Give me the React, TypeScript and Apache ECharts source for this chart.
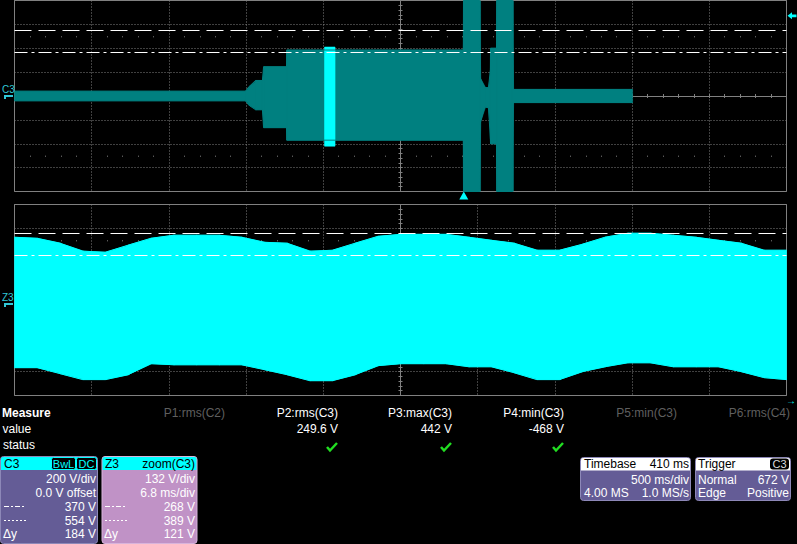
import React, { useEffect, useRef } from 'react';
import * as echarts from 'echarts';

// ---- Upper trace C3 (time in s, volts): envelope of the captured signal ----
const c3Time = [-2.91, -1.414, -1.394, -1.349, -1.304, -1.297, -1.148, -1.147, -0.003, -0.002, 0.102, 0.103, 0.135, 0.16, 0.172, 0.173, 0.212, 0.213, 0.315, 0.316, 1.093];
const c3Max = [40, 40, 75, 130, 130, 245, 245, 385, 385, 800, 800, 160, 70, 70, 220, 400, 400, 800, 800, 55, 55];
const c3Min = [-40, -40, -75, -115, -115, -265, -265, -370, -370, -800, -800, -240, -90, -100, -360, -400, -400, -800, -800, -55, -55];

// zoom window highlighted on C3
const zoomWinTime = [-0.902, -0.834];
const zoomWinMax = [410, 410];
const zoomWinMin = [-420, -420];

// ---- Lower trace Z3 = zoom(C3) (time in ms from window start, volts) ----
const z3Time = [0, 2, 4, 6, 8, 10, 12, 14, 16, 18, 20, 22, 24, 26, 28, 30, 32, 34, 36, 38, 40, 42, 44, 46, 48, 50, 52, 54, 56, 58, 60, 62, 64, 66, 68];
const z3Max = [369, 363, 336, 292, 286, 325, 363, 380, 380, 380, 369, 341, 336, 292, 297, 336, 374, 385, 385, 385, 369, 352, 336, 297, 297, 330, 369, 391, 391, 380, 369, 352, 336, 297, 297];
const z3Min = [-352, -352, -385, -418, -418, -391, -330, -336, -336, -336, -336, -363, -391, -424, -424, -391, -341, -330, -330, -330, -347, -347, -380, -418, -418, -374, -347, -325, -325, -347, -347, -347, -374, -407, -418];

// cursors (V)
const c3Cursors = [554, 370];
const z3Cursors = [389, 268];
const triggerTime = 0;
const triggerLevel = 672;

// measurement table
const measureNames = ['P1:rms(C2)', 'P2:rms(C3)', 'P3:max(C3)', 'P4:min(C3)', 'P5:min(C3)', 'P6:rms(C4)'];
const measureValues = ['', '249.6 V', '442 V', '-468 V', '', ''];
const measureOk = [false, true, true, true, false, false];

// channel boxes
const c3Rows = ['200 V/div', '0.0 V offset', '370 V', '554 V', '184 V'];
const z3Rows = ['132 V/div', '6.8 ms/div', '268 V', '389 V', '121 V'];
const timebaseHead = ['Timebase', '410 ms'];
const timebaseRows = [['', '500 ms/div'], ['4.00 MS', '1.0 MS/s']];
const triggerHead = ['Trigger', 'C3'];
const triggerRows = [['Normal', '672 V'], ['Edge', 'Positive']];

const FONT = '"Liberation Sans", Arial, sans-serif';
const GREY = '#808080';
const TEAL = '#008080';
const CYAN = '#00ffff';
const PURPLE = '#645c96';
const PINK = '#c092c6';

const gridRects = [
  { left: 14.5, top: 0.5, width: 772, height: 191 },
  { left: 14.5, top: 204.5, width: 772, height: 191 },
];
const dataX = [{ min: -2.91, max: 2.09 }, { min: 0, max: 68 }];
const dataY = [{ min: -800, max: 800 }, { min: -506, max: 550 }];

function buildAxes() {
  const xs: any[] = [];
  const ys: any[] = [];
  [0, 1].forEach((g) => {
    xs.push({ type: 'value', gridIndex: g, min: dataX[g].min, max: dataX[g].max, show: false });
    xs.push({
      type: 'value', gridIndex: g, min: 0, max: 10, interval: 1, position: 'bottom',
      axisLine: { show: false, onZero: false }, axisTick: { show: false }, axisLabel: { show: false },
      splitLine: { show: true, lineStyle: { color: GREY, type: [1, 2], width: 1 } },
    });
    [true, false].forEach((inside) => {
      xs.push({
        type: 'value', gridIndex: g, min: 0, max: 10, interval: 1, position: 'bottom', offset: -95.5,
        axisLine: { show: true, onZero: false, lineStyle: { color: GREY, width: 1 } },
        axisTick: { show: true, inside, length: 2, lineStyle: { color: GREY } },
        minorTick: { show: true, splitNumber: 5, length: 2, lineStyle: { color: GREY } },
        axisLabel: { show: false }, splitLine: { show: false },
      });
    });
    [-155.2, -35.8].forEach((off) => {
      xs.push({
        type: 'value', gridIndex: g, min: 0, max: 10, interval: 1, position: 'bottom', offset: off,
        axisLine: { show: false, onZero: false }, axisTick: { show: false },
        minorTick: { show: true, splitNumber: 5, length: 1, lineStyle: { color: GREY } },
        axisLabel: { show: false }, splitLine: { show: false },
      });
    });
    ys.push({ type: 'value', gridIndex: g, min: dataY[g].min, max: dataY[g].max, show: false });
    ys.push({
      type: 'value', gridIndex: g, min: 0, max: 8, interval: 1, position: 'left',
      axisLine: { show: false, onZero: false }, axisTick: { show: false }, axisLabel: { show: false },
      splitLine: { show: true, lineStyle: { color: GREY, type: [1, 2], width: 1 } },
    });
    [true, false].forEach((inside) => {
      ys.push({
        type: 'value', gridIndex: g, min: 0, max: 8, interval: 1, position: 'left', offset: -386,
        axisLine: { show: true, onZero: false, lineStyle: { color: GREY, width: 1 } },
        axisTick: { show: true, inside, length: 2, lineStyle: { color: GREY } },
        minorTick: { show: true, splitNumber: 5, length: 2, lineStyle: { color: GREY } },
        axisLabel: { show: false }, splitLine: { show: false },
      });
    });
  });
  return { xs, ys };
}

// filled envelope: one quadrilateral per pair of consecutive samples
// (right edge nudged by a pixel so neighbouring pieces overlap without seams)
function bandFill(name: string, g: number, t: number[], lo: number[], hi: number[], color: string) {
  const data = t.slice(0, -1).map((v, i) => [v, lo[i], hi[i], t[i + 1], lo[i + 1], hi[i + 1]]);
  const last = data.length - 1;
  return {
    type: 'custom', name, xAxisIndex: g * 6, yAxisIndex: g * 4, silent: true, z: 3, clip: true,
    data,
    encode: { x: [0, 3], y: [1, 2, 4, 5] },
    renderItem: (params: any, api: any) => {
      const a = api.coord([api.value(0), api.value(2)]);
      const b = api.coord([api.value(3), api.value(5)]);
      const c = api.coord([api.value(3), api.value(4)]);
      const d = api.coord([api.value(0), api.value(1)]);
      const nudge = params.dataIndex === last ? 0 : 1;
      return {
        type: 'polygon',
        shape: { points: [a, [b[0] + nudge, b[1]], [c[0] + nudge, c[1]], d] },
        style: { fill: color, stroke: color, lineWidth: 0.6 },
      };
    },
  };
}

// envelope edge line (carries the markers)
function edgeLine(name: string, g: number, t: number[], v: number[], color: string, extra: any = {}) {
  return {
    type: 'line', name, xAxisIndex: g * 6, yAxisIndex: g * 4, silent: true, z: 4,
    data: t.map((x, i) => [x, v[i]]), symbol: 'none', showSymbol: false,
    lineStyle: { color, width: 1 },
    ...extra,
  };
}

function cursorLines(vals: number[]) {
  return {
    symbol: 'none', silent: true, label: { show: false },
    data: [
      { yAxis: vals[0], lineStyle: { color: '#ffffff', width: 1, type: [17, 7] } },
      { yAxis: vals[1], lineStyle: { color: '#ffffff', width: 1, type: [13, 4, 3, 4] } },
    ],
  };
}

function text(x: number, y: number, s: string, o: any = {}) {
  return {
    type: 'text', x, y, silent: true, z: 100,
    style: {
      text: s, fill: o.fill || '#ffffff', fontSize: o.size || 12, fontFamily: FONT,
      fontWeight: o.weight || 'normal', align: o.align || 'left', verticalAlign: 'middle',
    },
  };
}
function rect(x: number, y: number, w: number, h: number, fill: string, o: any = {}) {
  return {
    type: 'rect', silent: true, z: o.z ?? 90,
    shape: { x, y, width: w, height: h, r: o.r || 0 },
    style: { fill, stroke: o.stroke || null, lineWidth: o.stroke ? 1 : 0 },
  };
}
function hline(x1: number, x2: number, y: number, dash: number[]) {
  return {
    type: 'line', silent: true, z: 100,
    shape: { x1, y1: y, x2, y2: y },
    style: { stroke: '#ffffff', lineWidth: 1, lineDash: dash },
  };
}

function buildGraphics() {
  const els: any[] = [];
  // channel labels on the left
  els.push(text(2, 89, 'C3', { fill: '#30c8d8', size: 10 }));
  els.push(rect(4, 95, 9, 2, '#30c8d8', { z: 100 }));
  els.push(rect(4, 95, 2, 4, '#30c8d8', { z: 100 }));
  els.push(text(2, 297, 'Z3', { fill: '#30c8d8', size: 10 }));
  els.push(rect(4, 303, 9, 2, '#30c8d8', { z: 100 }));
  els.push(rect(4, 303, 2, 4, '#30c8d8', { z: 100 }));

  // measure table
  els.push(text(2, 413.4, 'Measure', { weight: 'bold' }));
  els.push(text(2.5, 429.4, 'value'));
  els.push(text(3, 445.4, 'status'));
  const rightEdges = [225, 338, 452, 564, 677, 790];
  measureNames.forEach((n, i) => {
    const r = rightEdges[i];
    els.push(text(r, 413.4, n, { align: 'right', fill: measureOk[i] ? '#ffffff' : '#5f5f5f' }));
    if (measureValues[i]) els.push(text(r, 429.4, measureValues[i], { align: 'right' }));
    if (measureOk[i]) {
      els.push({
        type: 'polyline', silent: true, z: 100,
        shape: { points: [[r - 11, 447], [r - 8, 450.5], [r - 1, 443]] },
        style: { stroke: '#22dd22', lineWidth: 2.5, fill: null },
      });
    }
  });
  els.push(text(786, 400, '→', { fill: CYAN, size: 10 }));

  // C3 box
  const rowY = [478.5, 492.5, 506.5, 520.5, 534];
  els.push(rect(0.5, 456.5, 97, 87, PURPLE, { r: 3, stroke: '#8d88b8' }));
  els.push(rect(1, 457, 96, 13, CYAN, { r: [2, 2, 0, 0], z: 91 }));
  els.push(text(4, 463.5, 'C3', { fill: '#000000' }));
  els.push(rect(51.5, 457.5, 24, 12, '#000000', { r: 2, stroke: CYAN, z: 92 }));
  els.push(text(63.5, 463.8, 'BwL', { fill: CYAN, size: 11, align: 'center' }));
  els.push(rect(76.5, 457.5, 20, 12, '#000000', { r: 2, stroke: CYAN, z: 92 }));
  els.push(text(86.5, 463.8, 'DC', { fill: CYAN, size: 11, align: 'center' }));
  c3Rows.forEach((s, i) => els.push(text(96, rowY[i], s, { align: 'right' })));
  // Z3 box
  els.push(rect(102, 456.5, 95, 87, PINK, { r: 3, stroke: '#d8b4dc' }));
  els.push(rect(102.5, 457, 94, 13, CYAN, { r: [2, 2, 0, 0], z: 91 }));
  els.push(text(105, 463.5, 'Z3', { fill: '#000000' }));
  els.push(text(195, 463.5, 'zoom(C3)', { fill: '#000000', align: 'right' }));
  z3Rows.forEach((s, i) => els.push(text(195, rowY[i], s, { align: 'right' })));
  [3, 104].forEach((x0) => {
    els.push(hline(x0 + 1, x0 + 22, rowY[2], [5, 2, 2, 2]));
    els.push(hline(x0 + 1, x0 + 23, rowY[3], [2, 2]));
    els.push(text(x0, rowY[4], 'Δy'));
  });

  // Timebase box
  els.push(rect(580.5, 457.5, 110, 43, PURPLE, { r: 3, stroke: '#8d88b8' }));
  els.push(rect(581, 458, 109, 12.5, '#ffffff', { r: [2, 2, 0, 0], z: 91 }));
  els.push(text(584, 464, timebaseHead[0], { fill: '#000000' }));
  els.push(text(689, 464, timebaseHead[1], { fill: '#000000', align: 'right' }));
  timebaseRows.forEach((row, i) => {
    const y = i === 0 ? 479.5 : 493;
    if (row[0]) els.push(text(584, y, row[0]));
    els.push(text(689, y, row[1], { align: 'right' }));
  });
  // Trigger box
  els.push(rect(695.5, 457.5, 95, 43, PURPLE, { r: 3, stroke: '#8d88b8' }));
  els.push(rect(696, 458, 94, 12.5, '#ffffff', { r: [2, 2, 0, 0], z: 91 }));
  els.push(text(698, 464, triggerHead[0], { fill: '#000000' }));
  els.push(rect(770, 458.5, 19, 11, '#000000', { r: 3, z: 92 }));
  els.push(text(779.5, 464, triggerHead[1], { fill: '#dddddd', size: 11, align: 'center' }));
  triggerRows.forEach((row, i) => {
    const y = i === 0 ? 479.5 : 493;
    els.push(text(698, y, row[0]));
    els.push(text(789, y, row[1], { align: 'right' }));
  });
  return els;
}

function buildOption() {
  const { xs, ys } = buildAxes();
  const series: any[] = [
    bandFill('C3', 0, c3Time, c3Min, c3Max, TEAL),
    edgeLine('C3 min', 0, c3Time, c3Min, TEAL),
    edgeLine('C3 max', 0, c3Time, c3Max, TEAL, {
      markLine: cursorLines(c3Cursors),
      markPoint: {
        silent: true, label: { show: false },
        data: [
          { coord: [triggerTime, dataY[0].min], symbol: 'triangle', symbolSize: [9, 8], symbolOffset: [0, 4], itemStyle: { color: CYAN } },
          { coord: [dataX[0].max, triggerLevel], symbol: 'path://M0,5L5,0L5,3L10,3L10,7L5,7L5,10Z', symbolSize: [9, 7], symbolOffset: [5.5, 0], itemStyle: { color: CYAN } },
        ],
      },
    }),
    bandFill('zoom window', 0, zoomWinTime, zoomWinMin, zoomWinMax, CYAN),
    bandFill('Z3', 1, z3Time, z3Min, z3Max, CYAN),
    edgeLine('Z3 min', 1, z3Time, z3Min, CYAN),
    edgeLine('Z3 max', 1, z3Time, z3Max, CYAN, { markLine: cursorLines(z3Cursors) }),
  ];
  return {
    animation: false,
    backgroundColor: '#000000',
    grid: gridRects.map((r) => ({ ...r, show: true, borderColor: GREY, borderWidth: 1, backgroundColor: 'transparent', containLabel: false })),
    xAxis: xs,
    yAxis: ys,
    series,
    graphic: { elements: buildGraphics() },
  };
}

export default function App() {
  const ref = useRef<HTMLDivElement>(null);
  useEffect(() => {
    const chart = echarts.init(ref.current!, null, { renderer: 'svg' });
    chart.setOption(buildOption() as any);
    return () => chart.dispose();
  }, []);
  return (
    <div style={{ position: 'fixed', left: 0, top: 0, width: 797, height: 544, background: '#000' }}>
      <div ref={ref} style={{ width: 797, height: 544 }} />
    </div>
  );
}
